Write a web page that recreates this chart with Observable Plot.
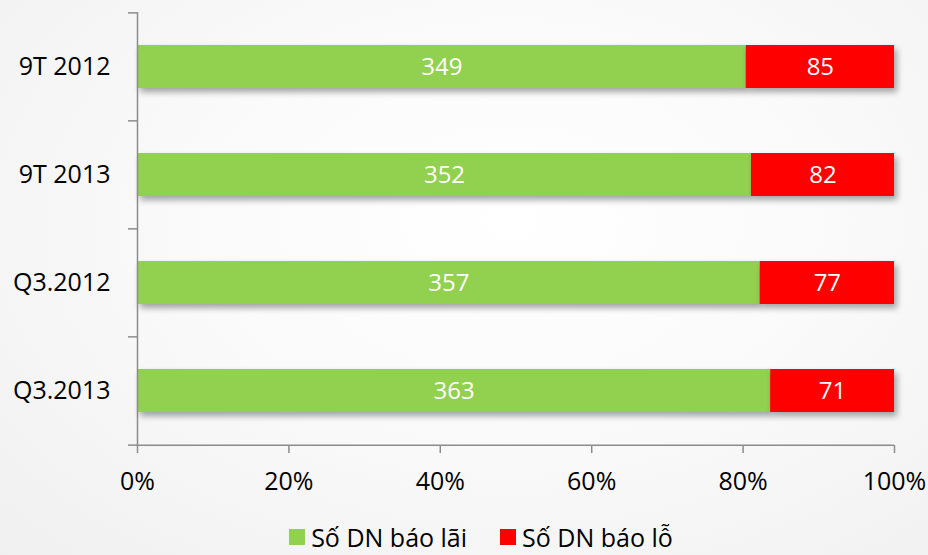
<!DOCTYPE html>
<html>
<head>
<meta charset="utf-8">
<script src="https://cdn.jsdelivr.net/npm/d3@7"></script>
<script src="https://cdn.jsdelivr.net/npm/@observablehq/plot@0.6"></script>
<style>
  html, body { margin: 0; padding: 0; }
  body {
    width: 928px; height: 555px; overflow: hidden;
    background: radial-gradient(ellipse at 55% 40%, #ffffff 0%, #fafafa 45%, #f0f0f0 100%);
    font-family: "Open Sans", sans-serif;
  }
  #chart svg { display: block; background: transparent; }
  #chart svg g[aria-label="bar"] rect { filter: drop-shadow(3px 4px 3px rgba(0,0,0,0.35)); }
  #legend { display: flex; justify-content: center; gap: 33px; font-size: 25px; color: #000; margin-top: 17px; padding-left: 34px; line-height: 30px; }
  #legend .item { display: flex; align-items: center; gap: 6px; }
  #legend .sw { width: 16px; height: 16px; display: inline-block; }
</style>
</head>
<body>
<div id="chart"></div>
<div id="legend"></div>
<script>
const categories = ["9T 2012", "9T 2013", "Q3.2012", "Q3.2013"];
const seriesNames = ["Số DN báo lãi", "Số DN báo lỗ"];
const profitValues = [349, 352, 357, 363];
const lossValues = [85, 82, 77, 71];
const colors = ["#92d050", "#ff0000"];
const xTicks = [0, 0.2, 0.4, 0.6, 0.8, 1];

const data = [];
categories.forEach((c, i) => {
  data.push({cat: c, series: seriesNames[0], value: profitValues[i]});
  data.push({cat: c, series: seriesNames[1], value: lossValues[i]});
});

const H = 505, mTop = 12, mBottom = 60;
const band = (H - mTop - mBottom) / categories.length;
const axisColor = "#8c8c8c";

const plot = Plot.plot({
  width: 928,
  height: H,
  marginTop: mTop,
  marginBottom: mBottom,
  marginLeft: 137,
  marginRight: 34,
  style: {fontFamily: "'Open Sans', sans-serif", fontSize: "25px", color: "#000", background: "transparent"},
  x: {domain: [0, 1], label: null},
  y: {domain: categories, paddingInner: 0.6, paddingOuter: 0.3, align: 0.5, label: null},
  color: {domain: seriesNames, range: colors},
  marks: [
    Plot.barX(data, Plot.stackX({offset: "normalize", x: "value", y: "cat", fill: "series", order: seriesNames})),
    Plot.text(data, Plot.stackX({offset: "normalize", x: "value", y: "cat", z: "series", order: seriesNames, text: d => String(d.value), fill: "white", fontSize: 24})),
    // axis lines
    Plot.ruleX([0], {stroke: axisColor, strokeWidth: 1.5}),
    Plot.ruleY([0], {y: () => categories[categories.length - 1], dy: band / 2, stroke: axisColor, strokeWidth: 1.5}),
    // y tick marks at band boundaries
    Plot.axisY({tickSize: 9, dy: -band / 2, tickFormat: () => "", stroke: axisColor, strokeWidth: 1.5, label: null}),
    Plot.axisY({tickSize: 9, dy: band / 2, ticks: [categories[categories.length - 1]], tickFormat: () => "", stroke: axisColor, strokeWidth: 1.5, label: null}),
    Plot.axisY({tickSize: 0, tickPadding: 27, fontSize: 25, fill: "#000", label: null}),
    Plot.axisX({ticks: xTicks, tickFormat: d3.format(".0%"), tickSize: 8, tickPadding: 19, stroke: axisColor, strokeWidth: 1.5, fontSize: 25, fill: "#000", label: null})
  ]
});
document.getElementById("chart").appendChild(plot);

const legend = document.getElementById("legend");
seriesNames.forEach((s, i) => {
  const it = document.createElement("div");
  it.className = "item";
  const sw = document.createElement("span");
  sw.className = "sw"; sw.style.background = colors[i];
  const t = document.createElement("span"); t.textContent = s;
  it.appendChild(sw); it.appendChild(t);
  legend.appendChild(it);
});
</script>
</body>
</html>
